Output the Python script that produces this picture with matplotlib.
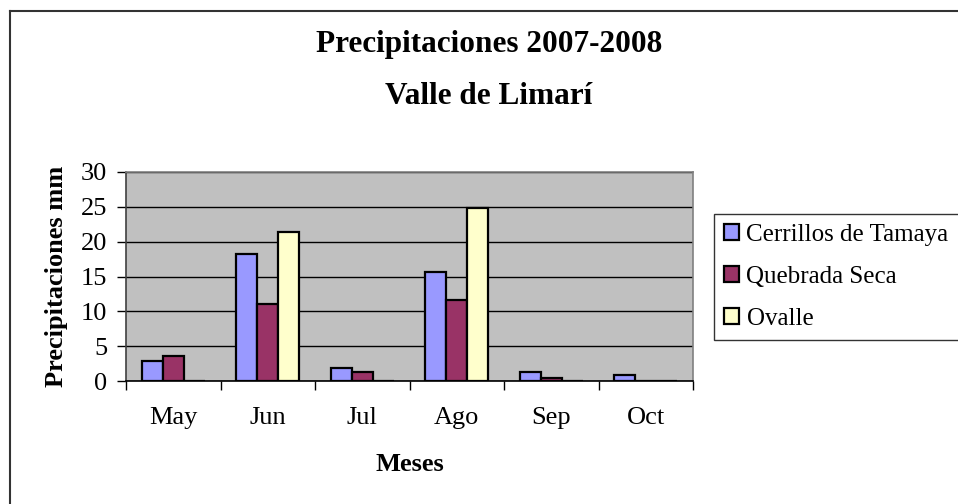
import numpy as np
from matplotlib import pyplot as plt
from matplotlib.patches import Patch
from matplotlib.lines import Line2D

meses = ['May', 'Jun', 'Jul', 'Ago', 'Sep', 'Oct']
cerrillos = [2.8, 18.2, 1.9, 15.6, 1.3, 0.8]
quebrada = [3.6, 11.1, 1.3, 11.6, 0.5, 0.0]
ovalle = [0.0, 21.4, 0.0, 24.8, 0.0, 0.0]
series = ['Cerrillos de Tamaya', 'Quebrada Seca', 'Ovalle']
colores = ['#9999FF', '#993366', '#FFFFCC']

plt.rcParams['font.family'] = ['Liberation Serif', 'DejaVu Serif']

fig = plt.figure(figsize=(9.58, 5.04), dpi=100)
ax = fig.add_axes([126 / 958, 1 - 381 / 504, 567 / 958, 209 / 504])
ax.set_facecolor('#C0C0C0')

x = np.arange(len(meses))
w = 0.222
for i, (vals, col) in enumerate(zip([cerrillos, quebrada, ovalle], colores)):
    ax.bar(x + (i - 1) * w, vals, width=w, color=col, edgecolor='black',
           linewidth=1.6, zorder=3)

ax.set_xlim(-0.5, 5.5)
ax.set_ylim(0, 30)
ax.set_yticks(range(0, 31, 5))
ax.yaxis.grid(True, color='black', linewidth=1, zorder=1)
ax.set_axisbelow(True)

ax.set_xticks(x)
ax.set_xticklabels(meses)
ax.set_xticks(np.arange(-0.5, 6, 1), minor=True)
ax.tick_params(axis='x', which='major', length=0, pad=19, labelsize=19)
ax.tick_params(axis='x', which='minor', length=6.5, width=1, direction='out')
ax.tick_params(axis='y', length=6.5, width=1, direction='out', pad=7, labelsize=19)

ax.spines['top'].set_color('#808080')
ax.spines['right'].set_color('#808080')
ax.spines['left'].set_color('#404040')
ax.spines['bottom'].set_color('black')
for s in ax.spines.values():
    s.set_linewidth(1.2)

ax.set_ylabel('Precipitaciones mm', fontsize=19, fontweight='bold', labelpad=9)
ax.set_xlabel('Meses', fontsize=19, fontweight='bold', labelpad=17)

fig.text(489 / 958, 1 - 52 / 504, 'Precipitaciones 2007-2008', ha='center',
         va='baseline', fontsize=22.5, fontweight='bold')
fig.text(489 / 958, 1 - 104 / 504, 'Valle de Limarí', ha='center',
         va='baseline', fontsize=22.5, fontweight='bold')

handles = [Patch(facecolor=c, edgecolor='black', linewidth=1.6) for c in colores]
leg = fig.legend(handles, series, loc='upper left',
                 bbox_to_anchor=(714 / 958, 1 - 214 / 504), fontsize=18,
                 frameon=True, fancybox=False, handlelength=0.6,
                 handleheight=0.6, handletextpad=0.3, labelspacing=0.8,
                 borderpad=0.4, borderaxespad=0)
leg.get_frame().set_edgecolor('black')
leg.get_frame().set_linewidth(1)

# marco exterior del grafico
fig.add_artist(Line2D([10 / 958, 10 / 958], [0, 1 - 11 / 504], color='#333333',
                      linewidth=1.5, transform=fig.transFigure))
fig.add_artist(Line2D([10 / 958, 1], [1 - 11 / 504, 1 - 11 / 504], color='#333333',
                      linewidth=1.5, transform=fig.transFigure))

fig.savefig('out.png', dpi=100)
